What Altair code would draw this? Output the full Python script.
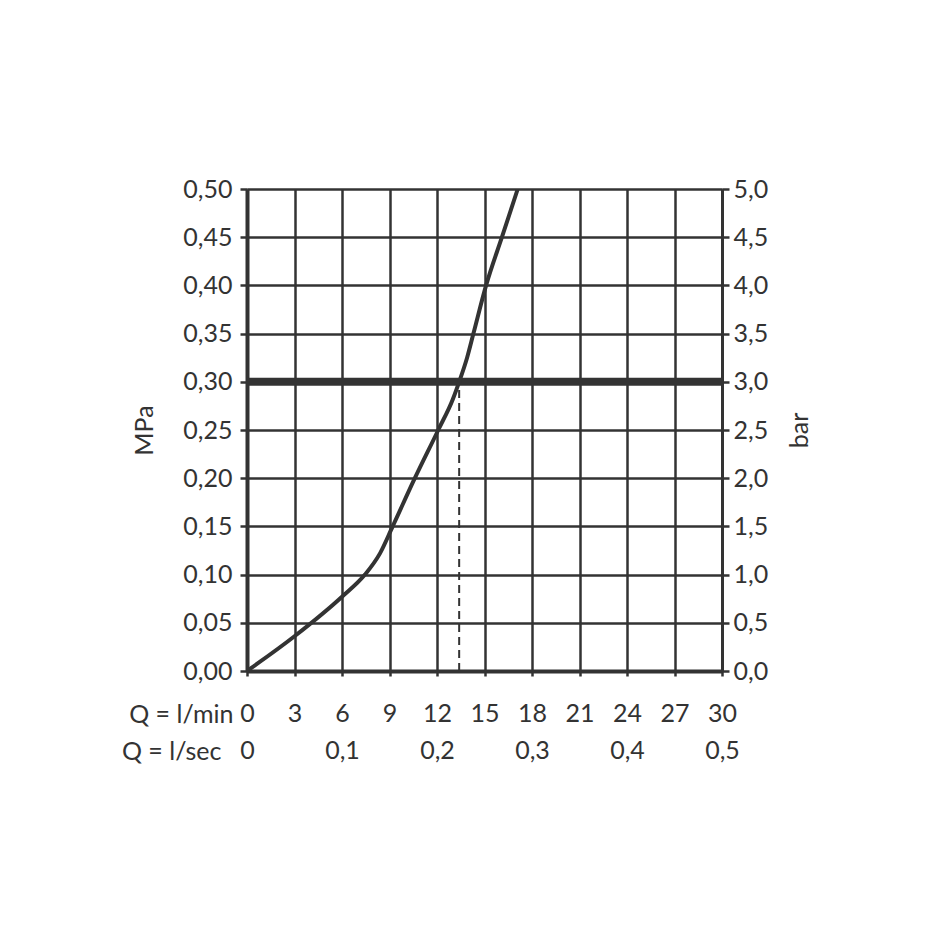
import altair as alt
import pandas as pd

# Flow rate (l/min) vs. pressure (MPa)
flow_lmin = [0, 3, 6, 7.45, 8.4, 9.2, 10.6, 12.08, 13.0, 13.4, 13.9, 14.3, 15.1, 16.1, 17.1]
pressure_mpa = [0, 0.036, 0.077, 0.10, 0.122, 0.15, 0.20, 0.25, 0.282, 0.30, 0.325, 0.35, 0.40, 0.45, 0.50]

x_ticks = [0, 3, 6, 9, 12, 15, 18, 21, 24, 27, 30]
y_ticks = [0, 0.05, 0.10, 0.15, 0.20, 0.25, 0.30, 0.35, 0.40, 0.45, 0.50]
sec_ticks = [0, 6, 12, 18, 24, 30]
sec_labels = ["0", "0,1", "0,2", "0,3", "0,4", "0,5"]

ref_pressure = [0.30]
ref_flow = [13.4]

INK = "#333333"
FONT = "Lato"
FS = 25

curve_df = pd.DataFrame({"q": flow_lmin, "p": pressure_mpa})
ref_df = pd.DataFrame({"p": ref_pressure})
dash_df = pd.DataFrame({"q": ref_flow, "p0": [0.0], "p1": ref_pressure})

# second label row (l/sec) via nested ternary
sec_expr = "''"
for t, lab in reversed(list(zip(sec_ticks, sec_labels))):
    sec_expr = f"(datum.value == {t} ? '{lab}' : {sec_expr})"
x_label_expr = f"[datum.label, {sec_expr}]"

x_scale = alt.Scale(domain=[0, 30], nice=False, zero=False)
y_dom = alt.Scale(domain=[0, 0.5], nice=False, zero=False)

x_axis = alt.Axis(
    values=x_ticks, grid=True, gridColor=INK, gridWidth=2.5, gridOpacity=1,
    domainColor=INK, domainWidth=4, tickColor=INK, tickWidth=2.5, tickSize=5,
    labelExpr=x_label_expr, labelFont=FONT, labelFontSize=FS, labelColor=INK,
    labelPadding=25, labelLineHeight=37, labelAngle=0, labelFlush=False,
    labelOverlap=False,
    title="Q = l/min", titleFont=FONT, titleFontSize=FS,
    titleFontWeight="normal", titleColor=INK, titleAlign="right", titleAnchor="start",
    titleX=-14, titleY=31, titleBaseline="top",
)

x_axis_sec_title = alt.Axis(
    orient="bottom", values=x_ticks, grid=False, domain=False, ticks=False,
    labels=False,
    title="Q = l/sec", titleFont=FONT, titleFontSize=FS,
    titleFontWeight="normal", titleColor=INK, titleAlign="right", titleAnchor="start",
    titleX=-26, titleY=68, titleBaseline="top",
)

y_axis_left = alt.Axis(
    values=y_ticks, grid=True, gridColor=INK, gridWidth=2.5, gridOpacity=1,
    domainColor=INK, domainWidth=4, tickColor=INK, tickWidth=2.5, tickSize=7,
    labelExpr="replace(format(datum.value, '.2f'), '.', ',')",
    labelFont=FONT, labelFontSize=FS, labelColor=INK, labelPadding=8,
    title="MPa", titleFont=FONT, titleFontSize=FS, titleFontWeight="normal",
    titleColor=INK, titlePadding=25,
)

y_axis_right = alt.Axis(
    orient="right", values=y_ticks, grid=False,
    domainColor=INK, domainWidth=3, tickColor=INK, tickWidth=2.5, tickSize=7,
    labelExpr="replace(format(datum.value * 10, '.1f'), '.', ',')",
    labelFont=FONT, labelFontSize=FS, labelColor=INK, labelPadding=4,
    title="bar", titleFont=FONT, titleFontSize=FS, titleFontWeight="normal",
    titleColor=INK, titlePadding=20, titleAngle=270, titleBaseline="top",
)

curve = alt.Chart(curve_df).mark_line(
    color=INK, strokeWidth=4, interpolate="monotone", clip=True
).encode(
    x=alt.X("q:Q", scale=x_scale, axis=x_axis),
    y=alt.Y("p:Q", scale=y_dom, axis=y_axis_left),
)

ref_rule = alt.Chart(ref_df).mark_rule(color=INK, strokeWidth=8).encode(
    y=alt.Y("p:Q", scale=y_dom, axis=None),
)

dash_rule = alt.Chart(dash_df).mark_rule(
    color=INK, strokeWidth=2, strokeDash=[8, 5]
).encode(
    x=alt.X("q:Q", scale=x_scale, axis=None),
    y=alt.Y("p0:Q", scale=y_dom, axis=None),
    y2="p1:Q",
)

right_axis_layer = alt.Chart(curve_df).mark_line(opacity=0).encode(
    x=alt.X("q:Q", scale=x_scale, axis=x_axis_sec_title),
    y=alt.Y("p:Q", scale=y_dom, axis=y_axis_right),
)

chart = alt.layer(dash_rule, ref_rule, curve, right_axis_layer).resolve_scale(
    y="independent", x="independent"
).properties(
    width=475, height=482, autosize="none",
    padding={"left": 239, "top": 181, "right": 200, "bottom": 240},
).configure_view(
    stroke=INK, strokeWidth=3
).configure(background="white")

chart.save("out.html", embed_options={"renderer": "svg", "actions": False})
